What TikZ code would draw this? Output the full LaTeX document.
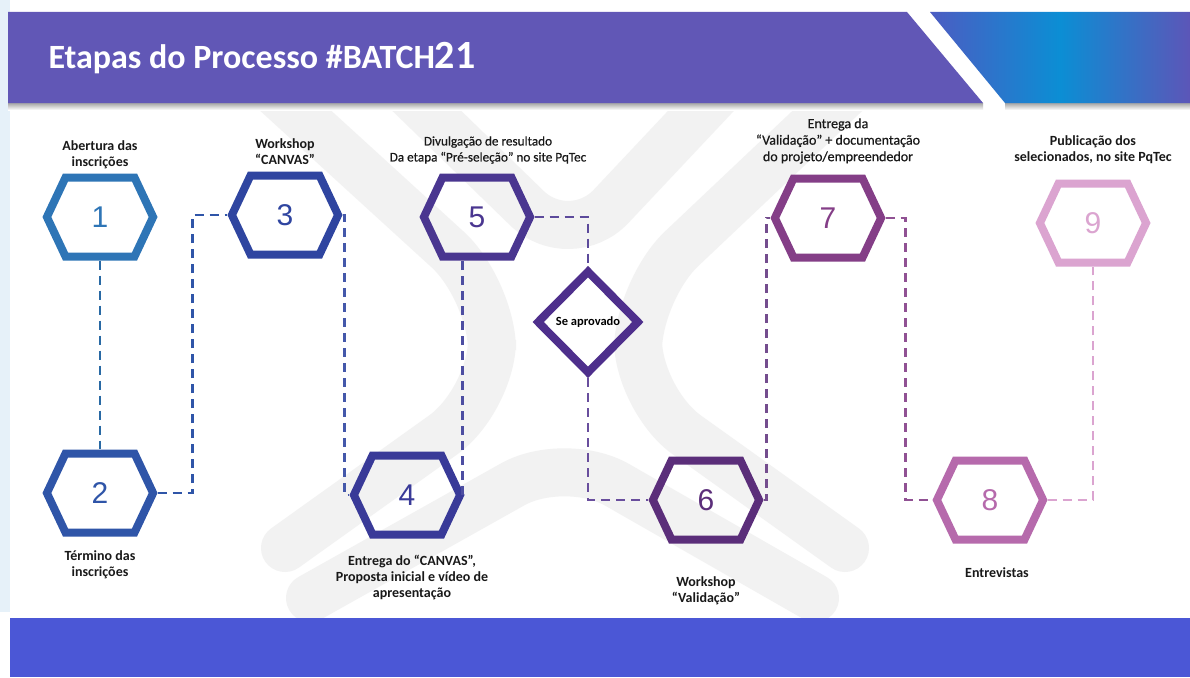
\documentclass[tikz,border=0pt]{standalone}
\usepackage{fontspec}
\setmainfont{Carlito}
\newfontfamily\numfont{Liberation Sans}
\usetikzlibrary{shapes.geometric}

\definecolor{headpurple}{HTML}{6157B6}
\definecolor{headleft}{HTML}{4C5CC2}
\definecolor{headmid}{HTML}{0B8ED4}
\definecolor{headright}{HTML}{5C56B8}
\definecolor{footblue}{HTML}{4B57D6}
\definecolor{tint}{HTML}{E6F1F9}
\definecolor{wm}{HTML}{F2F2F2}
\definecolor{cone}{HTML}{2E75B6}
\definecolor{ctwo}{HTML}{2F55A8}
\definecolor{cthree}{HTML}{2F45A0}
\definecolor{cfour}{HTML}{393A98}
\definecolor{cfive}{HTML}{4A3690}
\definecolor{cdec}{HTML}{4E2F8C}
\definecolor{csix}{HTML}{5B2E7A}
\definecolor{cseven}{HTML}{843E87}
\definecolor{ceight}{HTML}{B66AAC}
\definecolor{cnine}{HTML}{DBA4D0}

\tikzstyle{caption} = [align=center, text=black!90, font=\bfseries\fontsize{14}{16}\selectfont]
\tikzstyle{captionlight} = [align=center, text=black!90, font=\addfontfeature{FakeBold=0.6}\fontsize{14}{16.5}\selectfont]
\tikzstyle{link} = [line width=2.5pt, dash pattern=on 9pt off 6pt]
\tikzstyle{band} = [draw=wm, line width=48pt, line cap=round, rounded corners=60pt]
\tikzstyle{decision} = [diamond, minimum width=103pt, minimum height=104pt, inner sep=0pt, text centered, draw=cdec, line width=8pt, font=\bfseries\fontsize{12.5}{14}\selectfont]
\tikzset{hexa/.style={rectangle, minimum width=115pt, minimum height=87pt, inner sep=0pt,
  text=#1, font=\numfont\fontsize{30}{30}\selectfont,
  path picture={\draw[#1, line width=8pt, line join=miter]
    ([xshift=4.4pt]path picture bounding box.west)
    -- ([xshift=23pt,yshift=-4pt]path picture bounding box.north west)
    -- ([xshift=-23pt,yshift=-4pt]path picture bounding box.north east)
    -- ([xshift=-4.4pt]path picture bounding box.east)
    -- ([xshift=-23pt,yshift=4pt]path picture bounding box.south east)
    -- ([xshift=23pt,yshift=4pt]path picture bounding box.south west)
    -- cycle;}}}

\begin{document}
\begin{tikzpicture}[x=1pt, y=-1pt, node distance=276pt]

% Background
\useasboundingbox (0,0) rectangle (1190,677);
\fill[white] (0,0) rectangle (1190,677);
\fill[tint] (0,0) rectangle (10,612);

% Watermark
\draw[band] (262,80) -- (492,290) -- (492,400) -- (285,548);
\draw[band] (395,80) -- (570,250) -- (730,80);
\draw[band] (860,80) -- (638,290) -- (638,400) -- (845,548);
\draw[band] (310,598) -- (565,455) -- (815,598);

% Header and footer
\shade[top color=black!35, bottom color=white] (8,103) rectangle (983,110);
\shade[top color=black!35, bottom color=white] (1005,103) rectangle (1190,110);
\fill[headpurple] (8,12) -- (907,12) -- (983,103) -- (8,103) -- cycle;
\shade[left color=headleft, right color=headright, middle color=headmid] (930,12) -- (1190,12) -- (1190,103) -- (1005,103) -- cycle;
\node (title) [anchor=west, text=white, font=\bfseries\fontsize{34}{40}\selectfont] at (45,58) {Etapas do Processo \#BATCH{\fontsize{40}{40}\selectfont 21}};
\fill[footblue] (10,618) rectangle (1190,677);

% Nodes
\node (h1) [hexa=cone] at (100,217) {1};
\node (h2) [hexa=ctwo, below of=h1] {2};
\node (h3) [hexa=cthree, right of=h1, xshift=-91pt, yshift=2pt] {3};
\node (h4) [hexa=cfour, below of=h3, xshift=122pt, yshift=-4pt] {4};
\node (h5) [hexa=cfive, right of=h3, xshift=-84pt, yshift=-2pt] {5};
\node (h6) [hexa=csix, below of=h5, xshift=229pt, yshift=-7pt] {6};
\node (h7) [hexa=cseven, right of=h5, xshift=75pt, yshift=-1pt] {7};
\node (h8) [hexa=ceight, below of=h7, xshift=162pt, yshift=-6pt] {8};
\node (h9) [hexa=cnine, right of=h7, xshift=-11pt, yshift=-5pt] {9};
\node (sa) [decision, right of=h5, xshift=-165pt, yshift=-105pt] {Se aprovado};

% Captions
\node (t1) [caption, node distance=62pt, above of=h1] {Abertura das\\inscrições};
\node (t2) [caption, node distance=72pt, below of=h2] {Término das\\inscrições};
\node (t3) [caption, node distance=63pt, above of=h3] {Workshop\\“CANVAS”};
\node (t4) [caption, node distance=82pt, below of=h4, xshift=5pt] {Entrega do “CANVAS”,\\Proposta inicial e vídeo de\\apresentação};
\node (t5) [captionlight, node distance=67pt, above of=h5, xshift=11pt, font=\addfontfeature{FakeBold=0.6}\fontsize{13.2}{16}\selectfont] {Divulgação de resultado\\Da etapa “Pré-seleção” no site PqTec};
\node (t6) [caption, node distance=91pt, below of=h6] {Workshop\\“Validação”};
\node (t7) [captionlight, node distance=77pt, above of=h7, xshift=10pt] {Entrega da\\“Validação” + documentação\\do projeto/empreendedor};
\node (t8) [caption, node distance=73pt, below of=h8, xshift=7pt] {Entrevistas};
\node (t9) [caption, node distance=73pt, above of=h9] {Publicação dos\\selecionados, no site PqTec};

% Connectors
\draw [link, cone!90!black] (h1) -- (h2);
\draw [link, ctwo] (h2.east) -- ++(35,0) |- (h3.west);
\draw [link, cthree!90!white] (h3.east) -- ++(2,0) |- (h4.west);
\draw [link, cfour!90!white] ([xshift=-2pt]h4.east) -- ([xshift=-2pt]h4.east |- h5.south);
\draw [link, cfive!90!white] (h5.east) -| (sa.north);
\draw [link, cdec!85!white] (sa.south) |- (h6.west);
\draw [link, csix!85!white] (h6.east) -- ++(3,0) |- (h7.west);
\draw [link, cseven!90!white] (h7.east) -- ++(20,0) |- (h8.west);
\draw [link, cnine] (h8.east) -| (h9.south);

\end{tikzpicture}
\end{document}
